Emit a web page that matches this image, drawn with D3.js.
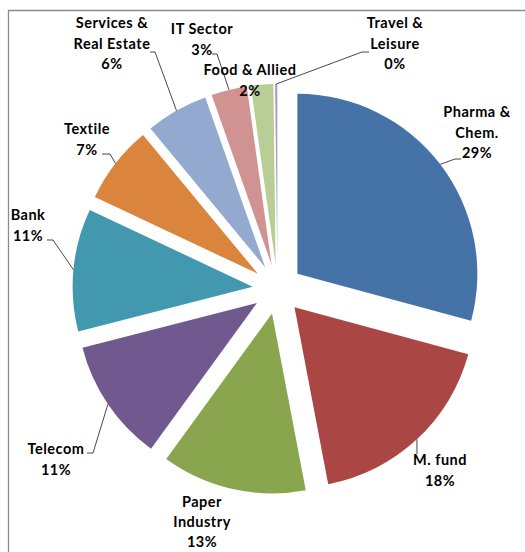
<!DOCTYPE html>
<html>

<head>
    <title>Sector Allocation</title>
    <script src="https://d3js.org/d3.v7.min.js"></script>
    <style>
        body { margin: 0; background: #fff; }
        text { font-family: Lato, "Open Sans", sans-serif; font-weight: bold; font-size: 14.5px; letter-spacing: 0.5px; fill: #000; }
    </style>
</head>

<body>
    <div id="chart"></div>
    <script>
        // DATA
        var sectors = ["Pharma & Chem.", "M. fund", "Paper Industry", "Telecom", "Bank", "Textile",
            "Services & Real Estate", "IT Sector", "Food & Allied", "Travel & Leisure"];
        var shares = [29.2, 17.8, 13.0, 11.0, 11.0, 7.0, 5.6, 3.2, 2.0, 0.2];
        var labelLines = [["Pharma &", "Chem."], ["M. fund"], ["Paper", "Industry"], ["Telecom"], ["Bank"],
            ["Textile"], ["Services &", "Real Estate"], ["IT Sector"], ["Food & Allied"], ["Travel &", "Leisure"]];
        var sliceColors = ["#4572A7", "#AA4643", "#89A54E", "#71588F", "#4198AF", "#DB843D",
            "#93A9CF", "#D19392", "#B9CD96", "#A99BBD"];

        // LAYOUT (label centre of first line, leader elbow and end of its short tail)
        var labelAt = [[477, 112], [440, 460], [202, 502], [56, 449], [28, 215], [87, 129], [112, 23], [202, 29], [250, 70], [395, 23]];
        var leaderBend = [[455, 159], [417, 454], null, [93, 453], [53, 240], [110, 154], [155, 52], [217, 54], null, [362, 52]];
        var leaderEnd = [461, 417, null, 87, 47, 102, 150, 212, null, 369];

        var width = 525, height = 552;
        var cx = 277.5, cy = 289, radius = 180, explode = 25;
        var lineHeight = 20.5;

        var svg = d3.select('#chart').append('svg')
            .attr('width', width)
            .attr('height', height);

        // chart area border (only top and left are inside the picture)
        svg.append('path')
            .attr('d', 'M8.5,' + height + 'V10.5H' + width)
            .attr('fill', 'none')
            .attr('stroke', '#8c8c8c')
            .attr('stroke-width', 1.3);

        var total = d3.sum(shares);
        var pie = d3.pie().sort(null).value(function (d) { return d; });
        var arcs = pie(shares);
        var arc = d3.arc().innerRadius(0).outerRadius(radius);

        function midAngle(a) { return (a.startAngle + a.endAngle) / 2; }
        function apex(a) {
            var m = midAngle(a);
            return [cx + explode * Math.sin(m), cy - explode * Math.cos(m)];
        }

        // SLICES
        svg.selectAll('path.slice')
            .data(arcs)
            .enter().append('path')
            .attr('class', 'slice')
            .attr('transform', function (d) { var p = apex(d); return 'translate(' + p[0] + ',' + p[1] + ')'; })
            .attr('d', arc)
            .style('fill', function (d, i) { return sliceColors[i]; });

        // LEADER LINES (from the middle of each slice's outer edge)
        arcs.forEach(function (d, i) {
            if (!leaderBend[i]) return;
            var p = apex(d), m = midAngle(d);
            var start = [p[0] + radius * Math.sin(m), p[1] - radius * Math.cos(m)];
            var bend = leaderBend[i];
            svg.append('polyline')
                .attr('points', [start, bend, [leaderEnd[i], bend[1]]].map(function (q) { return q.join(','); }).join(' '))
                .attr('fill', 'none')
                .attr('stroke', '#333')
                .attr('stroke-width', 0.9);
        });

        // LABELS
        arcs.forEach(function (d, i) {
            var lines = labelLines[i].concat([Math.round(shares[i] / total * 100) + '%']);
            var t = svg.append('text')
                .attr('text-anchor', 'middle')
                .attr('x', labelAt[i][0])
                .attr('y', labelAt[i][1] + 5);
            lines.forEach(function (s, k) {
                t.append('tspan')
                    .attr('x', labelAt[i][0])
                    .attr('dy', k === 0 ? 0 : (i === 2 ? lineHeight - 0.5 : lineHeight))
                    .text(s);
            });
        });
    </script>
</body>

</html>
